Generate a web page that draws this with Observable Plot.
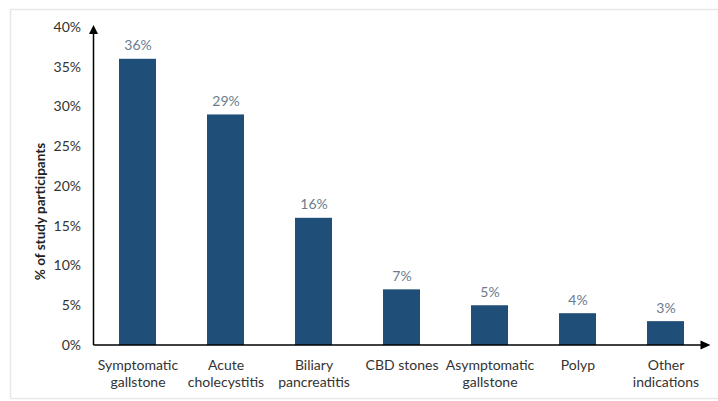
<!DOCTYPE html>
<html>
<head>
<meta charset="utf-8">
<script src="https://cdn.jsdelivr.net/npm/d3@7"></script>
<script src="https://cdn.jsdelivr.net/npm/@observablehq/plot@0.6"></script>
<style>
  html, body { margin: 0; padding: 0; background: #fff; }
  #chart { width: 718px; height: 401px; overflow: hidden; }
  svg { font-family: Lato, "Open Sans", sans-serif; }
</style>
</head>
<body>
<div id="chart"></div>
<script>
const categories = ["Symptomatic\ngallstone", "Acute\ncholecystitis", "Biliary\npancreatitis", "CBD stones", "Asymptomatic\ngallstone", "Polyp", "Other\nindications"];
const values = [36, 29, 16, 7, 5, 4, 3];
const yTicks = [0, 5, 10, 15, 20, 25, 30, 35, 40];
const yLabel = "% of study participants";

const data = categories.map((c, i) => ({category: c, value: values[i]}));

const plot = Plot.plot({
  width: 718,
  height: 401,
  marginLeft: 93.5,
  marginRight: 8.5,
  marginTop: 27,
  marginBottom: 56,
  style: {fontSize: "14px", fontFamily: "Lato, 'Open Sans', sans-serif", color: "#333", background: "white"},
  x: {domain: categories, paddingInner: 0.58, paddingOuter: 0.29, label: null},
  y: {domain: [0, 40], label: null},
  marks: [
    Plot.barY(data, {x: "category", y: "value", fill: "#1f4e79"}),
    Plot.text(data, {x: "category", y: "value", text: d => d.value + "%", dy: -9, lineAnchor: "bottom", fill: "#6b7c8f", fontSize: 14}),
    Plot.axisY({ticks: yTicks, tickSize: 0, tickPadding: 13, tickFormat: d => d + "%", label: null, fill: "#333"}),
    Plot.axisX({tickSize: 0, tickPadding: 12, lineHeight: 1.22, label: null, fill: "#333"}),
    Plot.text([yLabel], {frameAnchor: "left", textAnchor: "middle", rotate: -90, dx: -53, dy: 25, fontWeight: "bold", fontSize: 13.5, fill: "#222"})
  ]
});

document.getElementById("chart").appendChild(plot);

// axis lines with arrowheads and outer border
const svg = d3.select(plot);
const xs = plot.scale("x");
const ys = plot.scale("y");
const x0 = xs.range[0];
const x1 = xs.range[1];
const y0 = ys.apply(0);
const yTop = ys.apply(40) - 2;

svg.insert("rect", ":first-child")
  .attr("x", 10.5).attr("y", 9.5).attr("width", 730).attr("height", 389)
  .attr("fill", "none").attr("stroke", "#e8e8e8").attr("stroke-width", 1.5);

const g = svg.append("g").attr("fill", "#000").attr("stroke", "#000");
g.append("line").attr("x1", x0).attr("x2", x0).attr("y1", y0).attr("y2", yTop + 6).attr("stroke-width", 1.5);
g.append("path").attr("stroke", "none").attr("d", `M${x0},${yTop} L${x0 - 4.5},${yTop + 9} L${x0 + 4.5},${yTop + 9} Z`);
g.append("line").attr("x1", x0).attr("x2", x1 - 6).attr("y1", y0).attr("y2", y0).attr("stroke-width", 1.5);
g.append("path").attr("stroke", "none").attr("d", `M${x1 + 1},${y0} L${x1 - 9},${y0 - 4.5} L${x1 - 9},${y0 + 4.5} Z`);
</script>
</body>
</html>
